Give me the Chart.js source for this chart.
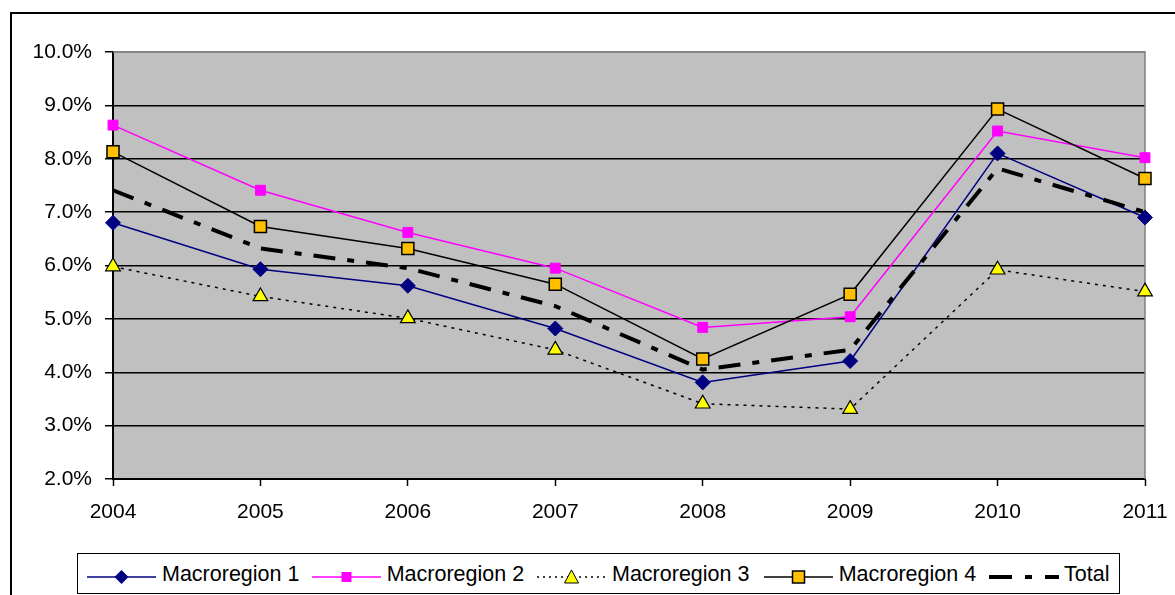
<!DOCTYPE html>
<html>
<head>
<meta charset="utf-8">
<script src="https://cdn.jsdelivr.net/npm/chart.js@4/dist/chart.umd.min.js"></script>
<style>
  html, body { margin: 0; padding: 0; background: #fff; overflow: hidden; }
  #wrap { position: relative; width: 1175px; height: 595px; overflow: hidden; font-family: "Liberation Sans", Arial, sans-serif; }
  #c { position: absolute; left: 0; top: 0; }
  #frame { position: absolute; left: 10px; top: 12px; width: 1400px; height: 800px; border-left: 2px solid #000; border-top: 2px solid #000; box-sizing: border-box; pointer-events: none; }
  #legend { position: absolute; left: 77px; top: 553px; width: 1043px; height: 41px; border: 1.5px solid #000; box-sizing: border-box; background: #fff; }
  .item { position: absolute; top: 0; height: 41px; }
  .item svg { position: absolute; left: 0; top: 0; }
  .item span { position: absolute; top: 8px; font-size: 21.5px; line-height: 24px; color: #000; white-space: nowrap; }
</style>
</head>
<body>
<div id="wrap">
  <canvas id="c" width="1175" height="595"></canvas>
  <div id="frame"></div>
  <div id="legend"></div>
</div>
<script>
// ---- data ----
const years = ['2004', '2005', '2006', '2007', '2008', '2009', '2010', '2011'];
const seriesNames = ['Macroregion 1', 'Macroregion 2', 'Macroregion 3', 'Macroregion 4', 'Total'];
const macro1 = [6.80, 5.93, 5.62, 4.82, 3.81, 4.21, 8.10, 6.90];
const macro2 = [8.63, 7.41, 6.62, 5.95, 4.84, 5.04, 8.52, 8.02];
const macro3 = [5.98, 5.42, 5.01, 4.42, 3.41, 3.31, 5.92, 5.51];
const macro4 = [8.13, 6.73, 6.32, 5.65, 4.25, 5.46, 8.93, 7.63];
const total  = [7.41, 6.32, 5.95, 5.24, 4.05, 4.42, 7.82, 7.00];
const yMin = 2, yMax = 10, yStep = 1;

const FONT = '"Liberation Sans", Arial, sans-serif';

const plotBg = {
  id: 'plotBg',
  beforeDraw(chart) {
    const a = chart.chartArea, ctx = chart.ctx;
    ctx.save();
    ctx.fillStyle = '#C0C0C0';
    ctx.fillRect(a.left, a.top, a.right - a.left, a.bottom - a.top);
    ctx.restore();
  },
  beforeDatasetsDraw(chart) {
    const a = chart.chartArea, ctx = chart.ctx;
    ctx.save();
    ctx.strokeStyle = '#808080';
    ctx.lineWidth = 1.5;
    ctx.beginPath();
    ctx.moveTo(a.left, a.top);
    ctx.lineTo(a.right, a.top);
    ctx.lineTo(a.right, a.bottom);
    ctx.stroke();
    ctx.restore();
  }
};

const chart = new Chart(document.getElementById('c'), {
  type: 'line',
  data: {
    labels: years,
    datasets: [
      { label: seriesNames[0], data: macro1, borderColor: '#000080', borderWidth: 1.5,
        pointStyle: 'rectRot', pointRadius: 7.5, pointBackgroundColor: '#000080', pointBorderColor: '#000080', pointBorderWidth: 1, order: 4 },
      { label: seriesNames[1], data: macro2, borderColor: '#FF00FF', borderWidth: 1.5,
        pointStyle: 'rect', pointRadius: 7, pointBackgroundColor: '#FF00FF', pointBorderColor: '#FF00FF', pointBorderWidth: 1, order: 3 },
      { label: seriesNames[2], data: macro3, borderColor: '#000000', borderWidth: 1.5, borderDash: [3, 5],
        pointStyle: 'triangle', pointRadius: 8.5, pointBackgroundColor: '#FFFF00', pointBorderColor: '#000000', pointBorderWidth: 1.2, order: 2 },
      { label: seriesNames[3], data: macro4, borderColor: '#000000', borderWidth: 1.5,
        pointStyle: 'rect', pointRadius: 8.5, pointBackgroundColor: '#FFC000', pointBorderColor: '#000000', pointBorderWidth: 1.5, order: 1 },
      { label: seriesNames[4], data: total, borderColor: '#000000', borderWidth: 4, borderDash: [22, 12, 7, 12],
        pointRadius: 0, order: 0 }
    ]
  },
  options: {
    responsive: false,
    animation: false,
    events: [],
    layout: { padding: { left: 0, top: 52, right: 30, bottom: 76 } },
    plugins: { legend: { display: false }, tooltip: { enabled: false }, title: { display: false } },
    elements: { line: { tension: 0, fill: false } },
    scales: {
      x: {
        type: 'category',
        offset: false,
        afterFit(scale) { scale.height = 40; scale.paddingLeft = 0; scale.paddingRight = 0; },
        grid: { drawOnChartArea: false, drawTicks: true, tickLength: 7, tickColor: '#000', tickWidth: 1.5 },
        border: { display: true, color: '#000', width: 2 },
        ticks: { color: '#000', font: { family: FONT, size: 21 }, padding: 14, maxRotation: 0, autoSkip: false }
      },
      y: {
        min: yMin, max: yMax,
        afterFit(scale) { scale.width = 113; scale.paddingTop = 0; scale.paddingBottom = 0; },
        grid: {
          color: (ctx) => (ctx.tick && ctx.tick.value === yMax) ? '#808080' : '#000',
          lineWidth: 1.5, drawTicks: true, tickLength: 8, tickColor: '#000', tickWidth: 1.5
        },
        border: { display: true, color: '#000', width: 2 },
        ticks: {
          stepSize: yStep, color: '#000', font: { family: FONT, size: 21 }, padding: 13,
          callback: (v) => v.toFixed(1) + '%'
        }
      }
    }
  },
  plugins: [plotBg]
});

// ---- legend (HTML, generated from the datasets) ----
const legendStarts = [9, 233.7, 459, 685.7, 911];
const markerSvg = [
  '<line x1="0" y1="23" x2="69" y2="23" stroke="#000080" stroke-width="1.5"/><polygon points="34.5,16 41.5,23 34.5,30 27.5,23" fill="#000080"/>',
  '<line x1="0" y1="23" x2="69" y2="23" stroke="#FF00FF" stroke-width="1.5"/><rect x="29.5" y="18" width="10" height="10" fill="#FF00FF"/>',
  '<line x1="0" y1="23" x2="69" y2="23" stroke="#000" stroke-width="1.5" stroke-dasharray="2,4"/><polygon points="34.5,16 41.5,29 27.5,29" fill="#FFFF00" stroke="#000" stroke-width="1"/>',
  '<line x1="0" y1="23" x2="69" y2="23" stroke="#000" stroke-width="1.5"/><rect x="28.5" y="17" width="12" height="12" fill="#FFC000" stroke="#000" stroke-width="1.5"/>',
  '<line x1="0" y1="23" x2="70" y2="23" stroke="#000" stroke-width="4" stroke-dasharray="23,13,7,13"/>'
];
const legendEl = document.getElementById('legend');
chart.data.datasets.forEach((ds, i) => {
  const it = document.createElement('div');
  it.className = 'item';
  it.style.left = legendStarts[i] + 'px';
  it.style.width = (i === 4 ? 130 : 220) + 'px';
  it.innerHTML = '<svg width="72" height="41" viewBox="0 0 72 41">' + markerSvg[i] + '</svg>';
  const sp = document.createElement('span');
  sp.style.left = '75px';
  sp.textContent = ds.label;
  it.appendChild(sp);
  legendEl.appendChild(it);
});
</script>
</body>
</html>
